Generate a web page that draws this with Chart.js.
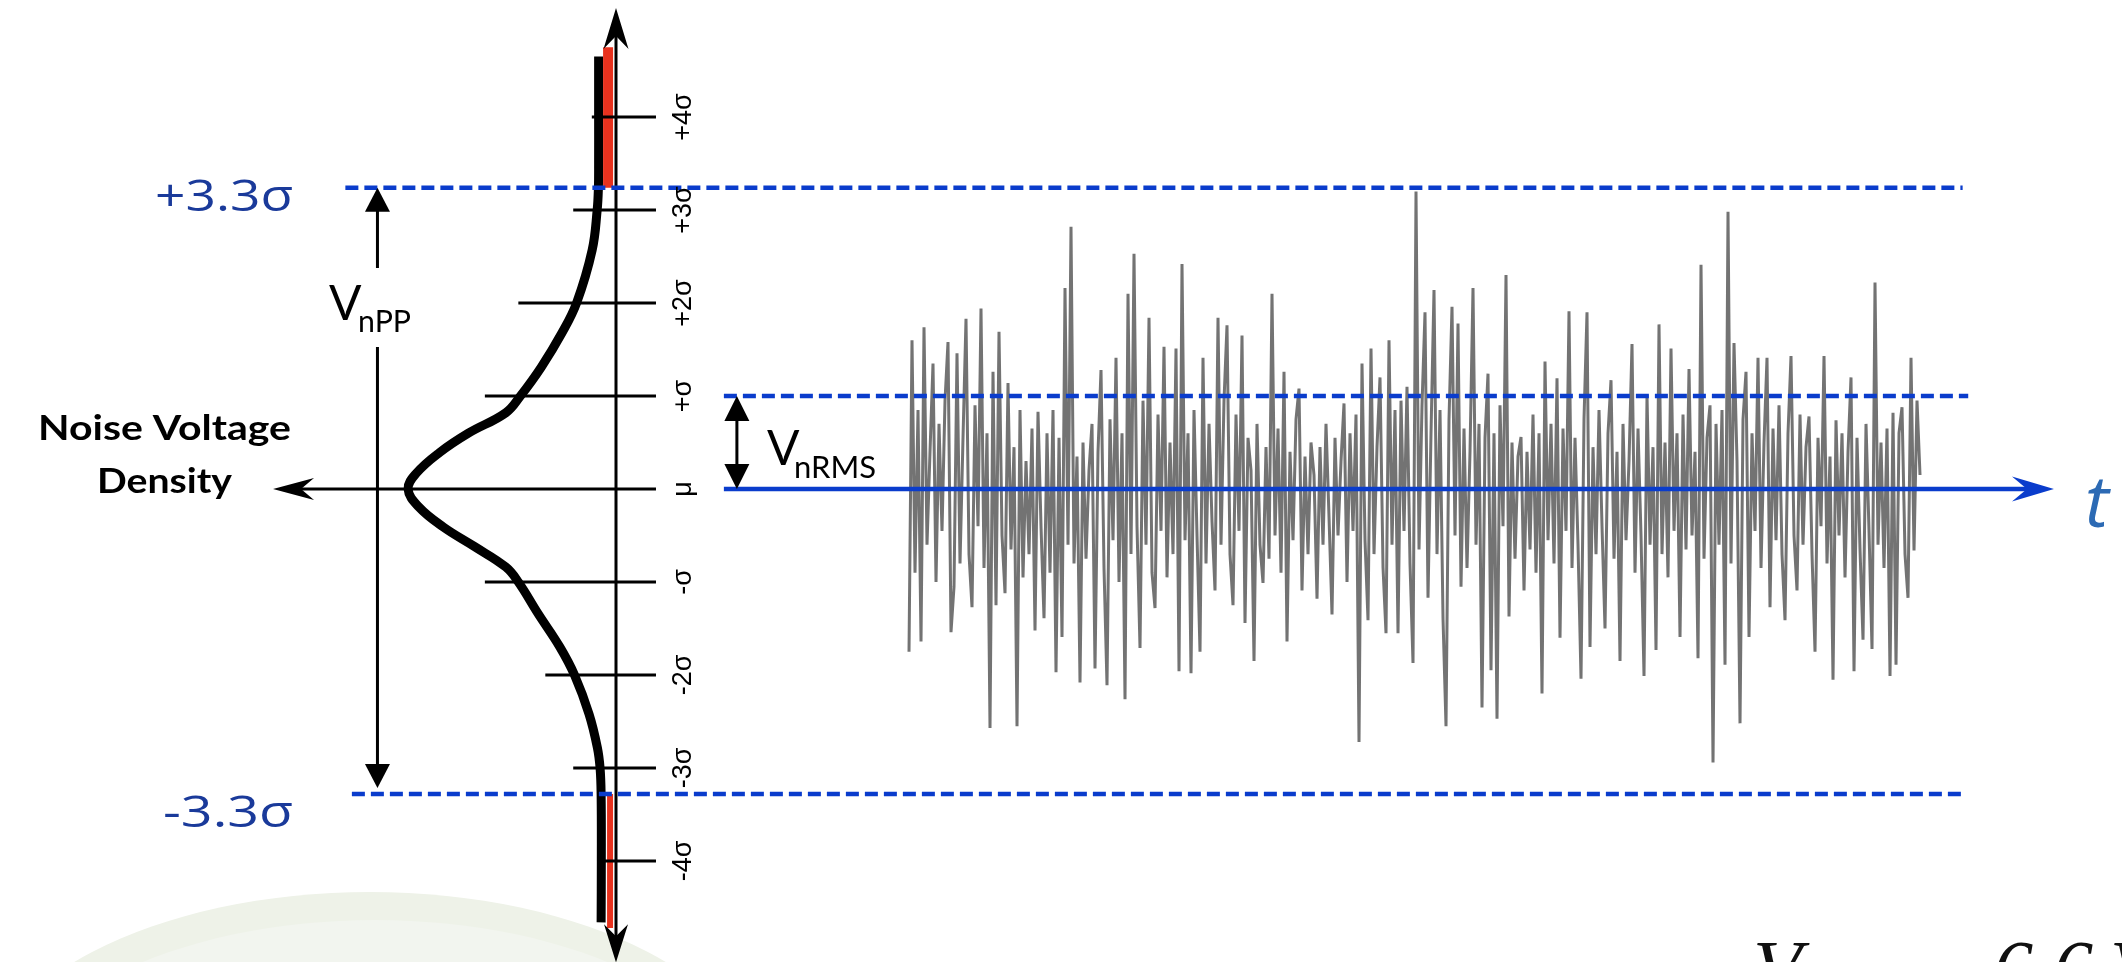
<!DOCTYPE html>
<html>
<head>
<meta charset="utf-8">
<script src="https://cdn.jsdelivr.net/npm/chart.js@4.4.0/dist/chart.umd.min.js"></script>
<style>
  html, body { margin: 0; padding: 0; background: #fff; }
  canvas { display: block; }
</style>
</head>
<body>
<canvas id="noiseChart" width="2122" height="962"></canvas>
<script>
"use strict";

// sigma levels on the vertical (voltage) axis
const sigmaTicks = [4, 3, 2, 1, 0, -1, -2, -3, -4];
const sigmaLabels = ["+4σ", "+3σ", "+2σ", "+σ", "μ", "-σ", "-2σ", "-3σ", "-4σ"];

// peak-to-peak and rms levels (in sigma)
const levelPPTop = 3.24;
const levelPPBottom = -3.28;
const levelRMS = 1;

// noise density curve (sigma -> relative density)
const densitySigma = [4.65, 4.0, 3.5, 3.24, 3.0, 2.57, 2.0, 1.68, 1.31, 1.0, 0.82, 0.6, 0.39, 0.17, 0,
  -0.19, -0.41, -0.62, -0.84, -1.0, -1.34, -1.7, -2.0, -2.42, -2.78, -3.0, -3.28, -4.0, -4.66];
const densityValue = [0.084, 0.084, 0.084, 0.085, 0.091, 0.115, 0.19, 0.26, 0.36, 0.46, 0.53, 0.71, 0.85, 0.96, 1.0,
  0.95, 0.83, 0.68, 0.53, 0.47, 0.375, 0.27, 0.20, 0.13, 0.09, 0.077, 0.072, 0.071, 0.072];

// noise voltage samples (in sigma), one per time step
const noiseValues = [
  -1.75, 1.60, -0.90, 0.85, -1.64, 1.74, -0.60, 0.40, 1.35, -1.00,
  0.70, -0.45, 0.95, 1.58, -1.54, -1.05, 1.46, -0.80, 0.55, 1.83,
  -0.70, -1.27, 0.90, -0.40, 1.94, -0.85, 0.60, -2.57, 1.26, -1.25,
  1.69, -0.50, -1.12, 1.14, -0.65, 0.45, -2.55, 0.85, -0.95, 0.30,
  -0.70, 0.65, -1.52, 0.83, -0.40, -1.39, 0.60, -0.90, 0.85, -1.97,
  0.55, -1.59, 2.16, -0.60, 2.82, -0.80, 0.35, -2.08, 0.50, -0.75,
  0.20, 0.70, -1.93, 0.40, 1.28, -0.85, -2.11, 0.75, -0.55, 1.41,
  -1.00, 0.60, -2.26, 2.10, -0.70, 2.53, -0.40, -1.71, 0.95, -0.60,
  1.84, -0.90, -1.28, 0.80, -0.45, 1.53, -0.95, 0.50, -0.70, 1.51,
  -1.96, 2.42, -0.55, 0.60, -1.98, 0.85, -0.50, -1.75, 1.41, -0.80,
  0.70, -0.35, -1.09, 1.84, -0.60, 0.95, 1.76, -0.70, -1.25, 0.80,
  -0.45, 1.65, -1.44, 0.55, 0.20, -1.85, 0.70, -0.60, -1.01, 0.45,
  -0.75, 2.10, -0.50, 0.65, -0.90, 1.26, -1.64, 0.40, -0.55, 0.75,
  1.08, -1.09, 0.35, -0.70, 0.50, 0.15, -1.18, 0.45, -0.60, 0.70,
  -0.30, -1.35, 0.55, -0.50, 0.30, 0.92, -1.00, 0.60, -0.45, 0.80,
  -2.72, 1.35, -0.55, -1.41, 1.51, -0.70, 0.45, 1.20, -0.84, -1.55,
  1.60, -0.60, 0.85, -1.55, 0.95, -0.45, 1.10, -0.80, -1.87, 3.20,
  -0.65, 0.90, 1.90, -1.17, 0.60, 2.14, -0.70, 0.85, -1.39, -2.55,
  0.75, 1.96, -0.50, 1.78, -1.05, 0.65, -0.85, 0.40, 2.16, -0.60,
  0.70, -2.35, 0.55, 1.24, -1.95, 0.60, -2.47, 0.90, -0.40, 2.30,
  -1.37, 0.50, -0.75, 0.35, 0.56, -1.09, 0.40, -0.65, 0.80, -0.90,
  0.60, -2.20, 1.37, -0.55, 0.70, -0.80, 1.19, -1.60, 0.65, -0.45,
  1.91, -0.85, 0.55, -0.60, -2.04, 0.75, 1.90, -1.70, 0.45, -0.70,
  0.85, -0.40, -1.50, 0.60, 1.17, -0.75, 0.40, -1.85, 0.70, -0.55,
  0.30, 1.56, -0.90, 0.65, -0.50, -2.01, 1.01, -0.60, 0.45, -1.73,
  1.77, -0.70, 0.50, -0.95, 1.51, -0.45, 0.60, -1.59, 0.80, -0.65,
  1.29, -0.50, 0.40, -1.82, 2.41, -0.75, 0.55, 0.90, -2.94, 0.70,
  -0.60, 0.85, -1.89, 2.98, -0.80, 1.57, 0.30, -2.52, 0.75, 1.26,
  -1.59, 0.60, -0.45, 1.41, -0.85, 0.50, 1.41, -1.27, 0.65, -0.55,
  0.90, -0.70, -1.41, 0.60, 1.43, -0.50, -1.09, 0.80, -0.60, 0.45,
  0.78, -0.70, -1.75, 0.55, -0.40, 1.43, -0.80, 0.35, -2.05, 0.74,
  -0.50, 0.60, -0.95, 0.40, 1.20, -1.96, 0.55, -0.65, -1.62, 0.70,
  -0.45, -1.72, 2.22, -0.60, 0.50, -0.85, 0.65, -2.01, 0.82, -1.89,
  0.60, 0.88, -0.70, -1.17, 1.41, -0.66, 0.95, 0.15
];

// ---- layout (x in sigma-widths from the density axis, y in sigma) ----
const SIGMA_PX = 93;
const U_MIN = -616 / SIGMA_PX, U_MAX = 1506 / SIGMA_PX;
const Y_MIN = -473 / SIGMA_PX, Y_MAX = 489 / SIGMA_PX;
const tickStart = [-0.26, -0.46, -1.05, -1.41, null, -1.41, -0.76, -0.46, -0.14];
const tickEnd = 0.43;

const BLUE = "#0a3ccc";
const pts = (xs, ys) => xs.map((x, i) => ({ x: x, y: ys[i] }));

const lineDs = (label, axis, data, color, width, extra) => Object.assign({
  label: label,
  xAxisID: axis,
  yAxisID: "y",
  data: data,
  showLine: true,
  borderColor: color,
  borderWidth: width,
  pointRadius: 0,
  fill: false,
  tension: 0,
  borderCapStyle: "butt"
}, extra || {});

const datasets = [
  lineDs("pp top", "x", pts([-2.91, 14.48], [levelPPTop, levelPPTop]), BLUE, 4.5, { borderDash: [13, 6] }),
  lineDs("pp bottom", "x", pts([-2.84, 14.52], [levelPPBottom, levelPPBottom]), BLUE, 4.5, { borderDash: [13, 6] }),
  lineDs("rms", "x", pts([1.16, 14.54], [levelRMS, levelRMS]), BLUE, 4.5, { borderDash: [13, 6] }),
  lineDs("mean", "x", pts([1.16, 15.2], [0, 0]), BLUE, 4.5),
  lineDs("rms arrow", "x", pts([1.30, 1.30], [0.85, 0.15]), "#000", 3),
  lineDs("pp arrow a", "x", pts([-2.565, -2.565], [3.05, 2.376]), "#000", 3),
  lineDs("pp arrow b", "x", pts([-2.565, -2.565], [1.527, -3.05]), "#000", 3),
  lineDs("v axis", "x", pts([0, 0], [-4.9, 4.95]), "#000", 3),
  lineDs("density axis", "x", pts([-3.45, tickEnd], [0, 0]), "#000", 3)
];

sigmaTicks.forEach((s, i) => {
  if (tickStart[i] === null) return;
  datasets.push(lineDs("tick " + sigmaLabels[i], "x", pts([tickStart[i], tickEnd], [s, s]), "#000", 3));
});

datasets.push(
  lineDs("tail top", "xd", pts([0.0385, 0.0385], [4.75, levelPPTop]), "#e8321e", 10),
  lineDs("tail bottom", "xd", pts([0.029, 0.029], [levelPPBottom, -4.72]), "#e8321e", 6),
  lineDs("density", "xd", pts(densityValue, densitySigma), "#000", 9, { tension: 0.4, borderJoinStyle: "round" }),
  lineDs("noise", "xt", noiseValues.map((v, i) => ({ x: i, y: v })), "rgba(80,80,80,0.8)", 3)
);

// arrow heads: tip in data units, screen direction, sizes in px
const arrowHeads = [
  { u: 0, y: 5.172, dx: 0, dy: -1, len: 41, half: 12.5, notch: 13, color: "#000" },
  { u: 0, y: -5.09, dx: 0, dy: 1, len: 38, half: 12, notch: 12, color: "#000" },
  { u: -3.688, y: 0, dx: -1, dy: 0, len: 41, half: 11, notch: 13, color: "#000" },
  { u: -2.565, y: levelPPTop, dx: 0, dy: -1, len: 24, half: 12.5, notch: 0, color: "#000" },
  { u: -2.565, y: -3.215, dx: 0, dy: 1, len: 24, half: 12.5, notch: 0, color: "#000" },
  { u: 1.30, y: levelRMS, dx: 0, dy: -1, len: 25, half: 12.5, notch: 0, color: "#000" },
  { u: 1.30, y: 0, dx: 0, dy: 1, len: 25, half: 12.5, notch: 0, color: "#000" },
  { u: 15.462, y: 0, dx: 1, dy: 0, len: 42, half: 12.5, notch: 15, color: BLUE }
];

const labels = [
  { text: "+3.3σ", u: -4.957, y: 2.989, font: "43px 'Open Sans'", color: "#1a3a9a", width: 138 },
  { text: "-3.3σ", u: -4.871, y: -3.634, font: "43px 'Open Sans'", color: "#1a3a9a", width: 130 },
  { text: "Noise Voltage", u: -4.855, y: 0.527, font: "bold 35px Lato", align: "center", width: 253 },
  { text: "Density", u: -4.855, y: -0.043, font: "bold 35px Lato", align: "center", width: 135 },
  { text: "V", u: -3.086, y: 1.817, font: "48px Lato" },
  { text: "nPP", u: -2.774, y: 1.688, font: "30px Lato", width: 53 },
  { text: "V", u: 1.624, y: 0.258, font: "48px Lato" },
  { text: "nRMS", u: 1.914, y: 0.118, font: "30px Lato", width: 82 },
  { text: "t", u: 15.796, y: -0.409, font: "italic 72px 'Open Sans'", color: "#2c6ab4" },
  { text: "V", u: 12.226, y: -5.45, font: "italic 80px 'Liberation Serif'", color: "#111" },
  { text: "6.6", u: 14.806, y: -5.45, font: "italic 80px 'Liberation Serif'", color: "#111" },
  { text: "V", u: 16.065, y: -5.45, font: "italic 80px 'Liberation Serif'", color: "#111" }
];

function drawArrowHead(ctx, x, y, a) {
  const bx = x - a.dx * a.len, by = y - a.dy * a.len;
  const nx = -a.dy, ny = a.dx;
  ctx.beginPath();
  ctx.moveTo(x, y);
  ctx.lineTo(bx + nx * a.half, by + ny * a.half);
  ctx.lineTo(x - a.dx * (a.len - a.notch), y - a.dy * (a.len - a.notch));
  ctx.lineTo(bx - nx * a.half, by - ny * a.half);
  ctx.closePath();
  ctx.fillStyle = a.color;
  ctx.fill();
}

function drawLabel(ctx, x, y, lab) {
  ctx.save();
  ctx.font = lab.font;
  ctx.fillStyle = lab.color || "#000";
  ctx.textBaseline = "alphabetic";
  ctx.textAlign = lab.align || "left";
  const w = ctx.measureText(lab.text).width;
  const sx = lab.width ? lab.width / w : 1;
  ctx.translate(x, y);
  if (lab.rotate) ctx.rotate(lab.rotate);
  ctx.scale(sx, 1);
  ctx.fillText(lab.text, 0, lab.dy || 0);
  ctx.restore();
}

const backdrop = {
  id: "backdrop",
  beforeDraw(chart) {
    const ctx = chart.ctx;
    ctx.save();
    ctx.fillStyle = "#fff";
    ctx.fillRect(0, 0, chart.width, chart.height);
    // pale blob in the lower left corner
    ctx.beginPath();
    ctx.ellipse(370, 1097, 393, 205, 0, 0, Math.PI * 2);
    ctx.fillStyle = "#eef2e8";
    ctx.fill();
    ctx.beginPath();
    ctx.ellipse(375, 1112, 372, 192, 0, 0, Math.PI * 2);
    ctx.fillStyle = "#f2f5ef";
    ctx.fill();
    ctx.restore();
  }
};

const annotations = {
  id: "annotations",
  afterDatasetsDraw(chart) {
    const ctx = chart.ctx;
    const sx = chart.scales.x, sy = chart.scales.y;
    arrowHeads.forEach(a => drawArrowHead(ctx, sx.getPixelForValue(a.u), sy.getPixelForValue(a.y), a));
    labels.forEach(l => drawLabel(ctx, sx.getPixelForValue(l.u), sy.getPixelForValue(l.y), l));
    sigmaTicks.forEach((s, i) => {
      drawLabel(ctx, sx.getPixelForValue(0.70), sy.getPixelForValue(s), {
        text: sigmaLabels[i], font: "27px 'Liberation Sans'", align: "center",
        rotate: -Math.PI / 2, dy: 9.5
      });
    });
  }
};

const ctx = document.getElementById("noiseChart").getContext("2d");
const noiseChart = new Chart(ctx, {
  type: "scatter",
  data: { datasets: datasets },
  options: {
    responsive: false,
    animation: false,
    devicePixelRatio: 1,
    layout: { padding: 0 },
    plugins: { legend: { display: false }, tooltip: { enabled: false } },
    scales: {
      x: { type: "linear", min: U_MIN, max: U_MAX, display: false },
      xt: { type: "linear", axis: "x", min: -303, max: 404.33, display: false },
      xd: { type: "linear", axis: "x", min: -7.24, max: 2.962, reverse: true, display: false },
      y: { type: "linear", min: Y_MIN, max: Y_MAX, display: false }
    }
  },
  plugins: [backdrop, annotations]
});
</script>
</body>
</html>
